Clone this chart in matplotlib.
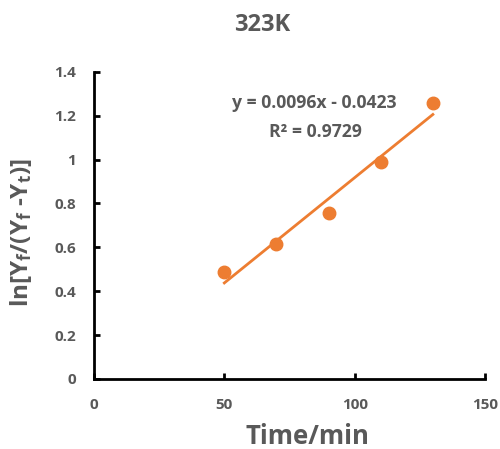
import matplotlib.pyplot as plt
import numpy as np

# measured points
time_min = [50, 70, 90, 110, 130]
ln_ratio = [0.489, 0.614, 0.758, 0.991, 1.260]

# linear trendline
slope = 0.0096
intercept = -0.0423
r_squared = 0.9729

x_ticks = [0, 50, 100, 150]
y_ticks = [0, 0.2, 0.4, 0.6, 0.8, 1, 1.2, 1.4]
y_tick_labels = ['0', '0.2', '0.4', '0.6', '0.8', '1', '1.2', '1.4']

orange = '#ED7D31'
grey = '#595959'

plt.rcParams['font.family'] = ['Open Sans', 'DejaVu Sans']
plt.rcParams['font.weight'] = 'bold'
plt.rcParams['mathtext.fontset'] = 'custom'
plt.rcParams['mathtext.rm'] = 'Open Sans:bold'
plt.rcParams['mathtext.it'] = 'Open Sans:bold'
plt.rcParams['mathtext.bf'] = 'Open Sans:bold'

fig = plt.figure(figsize=(5, 4.49), dpi=100)
ax = fig.add_axes([0.188, 0.156, 0.782, 0.684])

fit_x = np.array([time_min[0], time_min[-1]])
ax.plot(fit_x, slope * fit_x + intercept, color=orange, lw=2, zorder=2)
ax.plot(time_min, ln_ratio, 'o', color=orange, ms=9, zorder=3)

ax.set_xlim(0, 150)
ax.set_ylim(0, 1.4)
ax.set_xticks(x_ticks)
ax.set_yticks(y_ticks)
ax.set_yticklabels(y_tick_labels)

for side in ['top', 'right']:
    ax.spines[side].set_visible(False)
for side in ['left', 'bottom']:
    ax.spines[side].set_linewidth(2)
ax.tick_params(direction='in', length=4, width=2, colors='black',
               labelcolor=grey, labelsize=11)
ax.tick_params(axis='y', pad=13)
ax.tick_params(axis='x', pad=14)
for lbl in ax.get_xticklabels() + ax.get_yticklabels():
    lbl.set_fontweight('bold')

fig.text(0.524, 0.944, '323K', ha='center', va='center', fontsize=17,
         fontweight='bold', color=grey)
ax.set_xlabel('Time/min', fontsize=18.5, fontweight='bold', color=grey)
ax.xaxis.set_label_coords(0.547, -0.145)
ax.set_ylabel(r'ln[Y$_\mathrm{f}$/(Y$_\mathrm{f}$ -Y$_\mathrm{t}$)]', fontsize=17.5,
              fontweight='bold', color=grey)
ax.yaxis.set_label_coords(-0.153, 0.476)

ax.text(0.564, 0.899, f'y = {slope}x - {abs(intercept)}', transform=ax.transAxes,
        ha='center', va='center', fontsize=12.7, fontweight='bold', color=grey)
ax.text(0.566, 0.805, f'R² = {r_squared}', transform=ax.transAxes,
        ha='center', va='center', fontsize=12.7, fontweight='bold', color=grey)

fig.savefig('out.png', dpi=100)
